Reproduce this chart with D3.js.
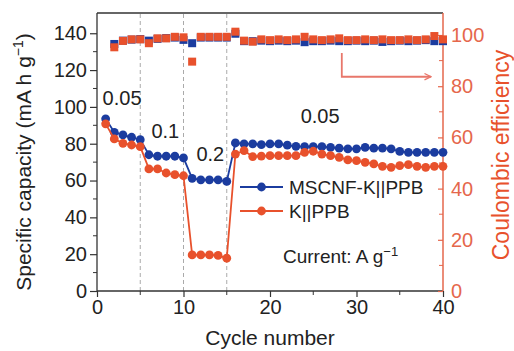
<!DOCTYPE html>
<html>
<head>
<meta charset="utf-8">
<script src="https://cdn.jsdelivr.net/npm/d3@7"></script>
<style>
  body { margin: 0; background: #fff; }
  svg text { font-family: "Liberation Sans", Arial, sans-serif; }
</style>
</head>
<body>
<script>
    "use strict";

    var cycles = [1, 2, 3, 4, 5, 6, 7, 8, 9, 10, 11, 12, 13, 14, 15, 16, 17, 18, 19, 20,
                  21, 22, 23, 24, 25, 26, 27, 28, 29, 30, 31, 32, 33, 34, 35, 36, 37, 38, 39, 40];

    var blueCap = [93.5, 86.2, 84.8, 83.5, 82.2, 74.0, 73.2, 73.2, 73.2, 72.3,
                   61.2, 60.4, 60.4, 60.4, 59.5, 80.4, 79.9, 79.9, 79.5, 79.9,
                   79.9, 79.2, 78.6, 78.4, 78.4, 78.4, 78.0, 77.6, 77.2, 77.2,
                   78.0, 77.6, 77.6, 77.2, 75.8, 75.3, 75.3, 75.3, 75.3, 75.3];
    var redCap = [90.8, 82.6, 80.2, 79.3, 78.4, 66.3, 66.3, 64.1, 63.2, 62.6,
                  19.6, 19.6, 19.6, 19.3, 17.8, 74.4, 76.2, 73.0, 73.3, 73.5,
                  73.5, 73.5, 73.5, 75.3, 75.9, 74.4, 73.5, 72.6, 71.2, 70.8,
                  69.9, 69.0, 67.7, 67.2, 68.1, 68.6, 67.7, 67.2, 67.7, 67.7];

    var blueCE = [null, 96.5, 97.8, 98.2, 98.4, 97.8, 98.5, 98.8, 99.0, 98.1,
                  96.8, 99.0, 99.0, 99.0, 99.0, 100.5, 97.6, 97.6, 97.8, 97.6,
                  97.8, 97.6, 97.8, 97.2, 97.6, 97.6, 97.8, 97.6, 97.6, 97.8,
                  97.6, 97.8, 97.3, 97.6, 97.8, 97.6, 97.8, 98.0, 97.6, 97.6];
    var redCE = [null, 95.2, 97.7, 98.3, 98.3, 96.8, 98.7, 98.7, 99.3, 99.1,
                 89.6, 99.3, 99.3, 99.3, 99.3, 101.3, 97.8, 97.4, 98.3, 98.0,
                 98.3, 98.0, 98.3, 99.3, 98.3, 98.0, 98.3, 98.7, 98.0, 98.0,
                 98.3, 98.0, 98.3, 98.0, 98.0, 98.3, 98.0, 98.3, 99.6, 98.3];

    var rateSteps = [5, 10, 15];
    var rateLabels = [
        {text: "0.05", x: 2.9, y: 101},
        {text: "0.1", x: 7.9, y: 83},
        {text: "0.2", x: 13.1, y: 70.6},
        {text: "0.05", x: 25.8, y: 91.4}
    ];
    var arrowPath = [[28.3, 93], [28.3, 83.7], [38.6, 83.7]];
    var xTicks = [0, 10, 20, 30, 40];
    var leftTicks = [0, 20, 40, 60, 80, 100, 120, 140];
    var rightTicks = [0, 20, 40, 60, 80, 100];

    var width = 514, height = 351;
    var margin = {top: 13, right: 71, bottom: 60, left: 97};
    var blue = "#1b3c9f", red = "#e8512c", axisRed = "#e5674c";

    var x = d3.scaleLinear().domain([0, 40]).range([margin.left, width - margin.right]);
    var yL = d3.scaleLinear().domain([0, 151]).range([height - margin.bottom, margin.top]);
    var yR = d3.scaleLinear().domain([0, 108.6]).range([height - margin.bottom, margin.top]);

    var svg = d3.select("body").append("svg")
        .attr("width", width)
        .attr("height", height);

    // dashed separators between current densities
    svg.selectAll("line.sep")
        .data(rateSteps)
        .enter().append("line")
            .attr("x1", function(d) { return x(d); })
            .attr("x2", function(d) { return x(d); })
            .attr("y1", yL(0))
            .attr("y2", margin.top)
            .attr("stroke", "#aaa")
            .attr("stroke-width", 1)
            .attr("stroke-dasharray", "4,3");

    // top frame
    svg.append("line")
        .attr("x1", x(0)).attr("x2", x(40))
        .attr("y1", margin.top).attr("y2", margin.top)
        .attr("stroke", "#333").attr("stroke-width", 1.3);

    // bottom axis
    var gx = svg.append("g")
        .attr("transform", "translate(0," + yL(0) + ")")
        .call(d3.axisBottom(x).tickValues(xTicks).tickSize(6).tickPadding(3));
    gx.selectAll("line.minor")
        .data([5, 15, 25, 35])
        .enter().append("line")
            .attr("x1", function(d) { return x(d); })
            .attr("x2", function(d) { return x(d); })
            .attr("y1", 0).attr("y2", 4)
            .attr("stroke", "#333");

    // left axis
    var gl = svg.append("g")
        .attr("transform", "translate(" + x(0) + ",0)")
        .call(d3.axisLeft(yL).tickValues(leftTicks).tickSize(7).tickPadding(3));
    gl.selectAll("line.minor")
        .data([10, 30, 50, 70, 90, 110, 130])
        .enter().append("line")
            .attr("y1", function(d) { return yL(d); })
            .attr("y2", function(d) { return yL(d); })
            .attr("x1", 0).attr("x2", -4)
            .attr("stroke", "#333");

    // right axis
    var gr = svg.append("g")
        .attr("transform", "translate(" + x(40) + ",0)")
        .call(d3.axisRight(yR).tickValues(rightTicks).tickSize(-5).tickPadding(8));
    gr.selectAll("line.minor")
        .data([10, 30, 50, 70, 90])
        .enter().append("line")
            .attr("y1", function(d) { return yR(d); })
            .attr("y2", function(d) { return yR(d); })
            .attr("x1", 0).attr("x2", -4)
            .attr("stroke", axisRed);

    [gx, gl].forEach(function(g) {
        g.select(".domain").attr("stroke", "#333").attr("stroke-width", 1.3);
        g.selectAll(".tick line").attr("stroke", "#333").attr("stroke-width", 1.2);
        g.selectAll("text").attr("font-size", 20).attr("fill", "#222");
    });
    gr.select(".domain").attr("stroke", axisRed).attr("stroke-width", 1.5);
    gr.selectAll(".tick line").attr("stroke", axisRed).attr("stroke-width", 1.2);
    gr.selectAll("text").attr("font-size", 20).attr("fill", axisRed);
    gx.selectAll(".domain").attr("d", "M" + x(0) + ",0H" + x(40));
    gl.selectAll(".domain").attr("d", "M0," + yL(0) + "V" + margin.top);
    gr.selectAll(".domain").attr("d", "M0," + yR(0) + "V" + margin.top);

    // axis titles
    svg.append("text")
        .attr("transform", "translate(31,162) rotate(-90)")
        .attr("text-anchor", "middle")
        .attr("font-size", 21)
        .attr("fill", "#222")
        .html('Specific capacity  (mA h g<tspan dy="-8" font-size="14">\u22121</tspan><tspan dy="8">)</tspan>');

    svg.append("text")
        .attr("transform", "translate(509,155) rotate(-90)")
        .attr("text-anchor", "middle")
        .attr("font-size", 23)
        .attr("fill", red)
        .text("Coulombic efficiency");

    svg.append("text")
        .attr("x", (x(0) + x(40)) / 2)
        .attr("y", 345)
        .attr("text-anchor", "middle")
        .attr("font-size", 21)
        .attr("fill", "#222")
        .text("Cycle number");

    // rate labels
    svg.selectAll("text.rate")
        .data(rateLabels)
        .enter().append("text")
            .attr("x", function(d) { return x(d.x); })
            .attr("y", function(d) { return yL(d.y); })
            .attr("text-anchor", "middle")
            .attr("font-size", 20)
            .attr("fill", "#222")
            .text(function(d) { return d.text; });

    // arrow pointing to the right axis
    svg.append("defs").append("marker")
        .attr("id", "head")
        .attr("viewBox", "0 0 10 10")
        .attr("refX", 9).attr("refY", 5)
        .attr("markerWidth", 8).attr("markerHeight", 8)
        .attr("markerUnits", "userSpaceOnUse")
        .attr("orient", "auto")
        .append("path")
            .attr("d", "M1,1L9,5L1,9")
            .attr("fill", "none")
            .attr("stroke", "#e8776b")
            .attr("stroke-width", 1.6);
    svg.append("path")
        .attr("d", d3.line().x(function(d) { return x(d[0]); }).y(function(d) { return yR(d[1]); })(arrowPath))
        .attr("fill", "none")
        .attr("stroke", "#e8776b")
        .attr("stroke-width", 1.8)
        .attr("marker-end", "url(#head)");

    // coulombic efficiency squares
    function drawSquares(vals, color) {
        svg.append("g").selectAll("rect")
            .data(vals.map(function(v, i) { return {c: cycles[i], v: v}; })
                      .filter(function(d) { return d.v !== null; }))
            .enter().append("rect")
                .attr("x", function(d) { return x(d.c) - 4; })
                .attr("y", function(d) { return yR(d.v) - 4; })
                .attr("width", 8)
                .attr("height", 8)
                .attr("fill", color);
    }
    drawSquares(blueCE, blue);
    drawSquares(redCE, red);

    // capacity lines + circles
    var capLine = d3.line()
        .x(function(d) { return x(d.c); })
        .y(function(d) { return yL(d.v); });

    function drawCap(vals, color) {
        var pts = vals.map(function(v, i) { return {c: cycles[i], v: v}; });
        svg.append("path")
            .attr("d", capLine(pts))
            .attr("fill", "none")
            .attr("stroke", color)
            .attr("stroke-width", 1.8);
        svg.append("g").selectAll("circle")
            .data(pts)
            .enter().append("circle")
                .attr("cx", function(d) { return x(d.c); })
                .attr("cy", function(d) { return yL(d.v); })
                .attr("r", 4.4)
                .attr("fill", color);
    }
    drawCap(blueCap, blue);
    drawCap(redCap, red);

    // legend
    var legend = [
        {name: "MSCNF-K||PPB", color: blue, y: 187},
        {name: "K||PPB", color: red, y: 211}
    ];
    var lg = svg.append("g");
    legend.forEach(function(l) {
        lg.append("line")
            .attr("x1", 240).attr("x2", 283)
            .attr("y1", l.y).attr("y2", l.y)
            .attr("stroke", l.color).attr("stroke-width", 1.8);
        lg.append("circle")
            .attr("cx", 261.5).attr("cy", l.y).attr("r", 4.4)
            .attr("fill", l.color);
        lg.append("text")
            .attr("x", 289).attr("y", l.y + 7)
            .attr("font-size", 19)
            .attr("fill", "#222")
            .text(l.name);
    });

    svg.append("text")
        .attr("x", 283).attr("y", 263)
        .attr("font-size", 19)
        .attr("fill", "#222")
        .html('Current: A g<tspan dy="-7" font-size="13">\u22121</tspan>');
</script>
</body>
</html>
